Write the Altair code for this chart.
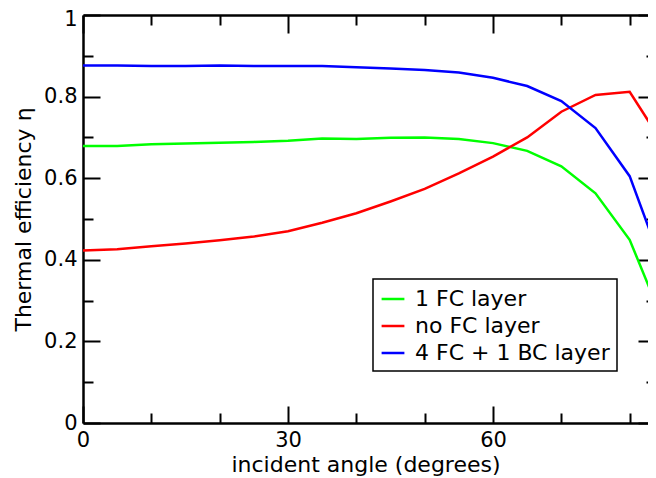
import altair as alt
import pandas as pd

angles = [0, 5, 10, 15, 20, 25, 30, 35, 40, 45, 50, 55, 60, 65, 70, 75, 80, 85]
fc1 = [0.679, 0.679, 0.683, 0.685, 0.687, 0.689, 0.692, 0.697, 0.696, 0.699, 0.700, 0.696, 0.686, 0.667, 0.629, 0.563, 0.449, 0.245]
nofc = [0.423, 0.426, 0.433, 0.440, 0.448, 0.457, 0.470, 0.491, 0.514, 0.543, 0.574, 0.612, 0.653, 0.700, 0.763, 0.804, 0.812, 0.681]
fc4bc1 = [0.876, 0.876, 0.875, 0.875, 0.876, 0.875, 0.875, 0.875, 0.872, 0.869, 0.865, 0.859, 0.846, 0.826, 0.789, 0.723, 0.605, 0.378]
series_names = ["1 FC layer", "no FC layer", "4 FC + 1 BC layer"]
series_colors = ["#00ff00", "#ff0000", "#0000ff"]

x_major = [0, 30, 60, 90]
x_minor = [10, 20, 40, 50, 70, 80]
y_major = [0, 0.2, 0.4, 0.6, 0.8, 1]
y_labelled = [0, 0.2, 0.4, 0.6, 0.8]
y_minor = [0.1, 0.3, 0.5, 0.7, 0.9]
y_top = [1]

rows = []
for name, vals in zip(series_names, [fc1, nofc, fc4bc1]):
    for a, v in zip(angles, vals):
        rows.append({"angle": a, "eff": v, "series": name})
df = pd.DataFrame(rows)

PLOT_W = 565
XMAX = PLOT_W / (205 / 30)
FONT = "DejaVu Sans"
xs = alt.Scale(domain=[0, XMAX], nice=False, zero=False)
ys = alt.Scale(domain=[0, 1], nice=False, zero=False)

common = dict(grid=False, tickColor="black", tickWidth=2, domainColor="black",
              domainWidth=2.5, labelColor="black", labelFont=FONT, labelFontSize=21,
              titleFont=FONT, titleFontSize=22, titleColor="black", titleFontWeight="normal",
              labelFlush=False)


def tick_axis(orient, values, size, labels=False, title=None, **kw):
    return alt.Axis(orient=orient, values=values, tickSize=size, offset=-size,
                    domain=False, labels=labels, title=title, **common, **kw)


def dom_axis(orient):
    return alt.Axis(orient=orient, ticks=False, labels=False, domain=True,
                    title=None, **common)


base = alt.Chart(df)

main = base.mark_line(strokeWidth=2.5, clip=True).encode(
    x=alt.X("angle:Q", scale=xs,
            axis=tick_axis("bottom", x_major, 17, labels=True,
                           title="incident angle (degrees)", labelPadding=6,
                           titlePadding=4, format="d")),
    y=alt.Y("eff:Q", scale=ys,
            axis=tick_axis("left", y_major, 17, labels=True,
                           title="Thermal efficiency η", labelPadding=6,
                           titlePadding=8, format="~g",
                           labelExpr="datum.value < 0.95 ? format(datum.value, '~g') : ''")),
    color=alt.Color("series:N",
                    scale=alt.Scale(domain=series_names, range=series_colors),
                    legend=alt.Legend(orient="none", legendX=290, legendY=264,
                                      title=None, strokeColor="black", fillColor="white",
                                      padding=7, rowPadding=3, symbolType="stroke",
                                      symbolSize=520, symbolStrokeWidth=2.5,
                                      labelFont=FONT, labelFontSize=22, labelLimit=400,
                                      labelColor="black", labelOffset=9)),
)


def helper(xaxis, yaxis):
    return base.mark_line(strokeOpacity=0, clip=True).encode(
        x=alt.X("angle:Q", scale=xs, axis=xaxis),
        y=alt.Y("eff:Q", scale=ys, axis=yaxis),
        detail="series:N",
    )


layers = [
    main,
    helper(tick_axis("top", x_major, 18), tick_axis("right", y_major, 10)),
    helper(tick_axis("bottom", x_minor, 10), tick_axis("left", y_minor, 10)),
    helper(tick_axis("top", x_minor, 10), tick_axis("right", y_minor, 2)),
    helper(dom_axis("bottom"), dom_axis("left")),
    helper(dom_axis("top"),
           tick_axis("left", y_top, 0, labels=True, labelPadding=6, labelOffset=4,
                     format="~g")),
]

chart = alt.layer(*layers).resolve_axis(x="independent", y="independent").properties(
    width=PLOT_W, height=408,
    autosize=alt.AutoSizeParams(type="none"),
    padding={"left": 75, "top": 7, "right": 0, "bottom": 55},
    background="white",
).configure_view(stroke=None).configure_legend(strokeWidth=1.5)

chart.save("out.html", embed_options={"renderer": "svg", "actions": False})
